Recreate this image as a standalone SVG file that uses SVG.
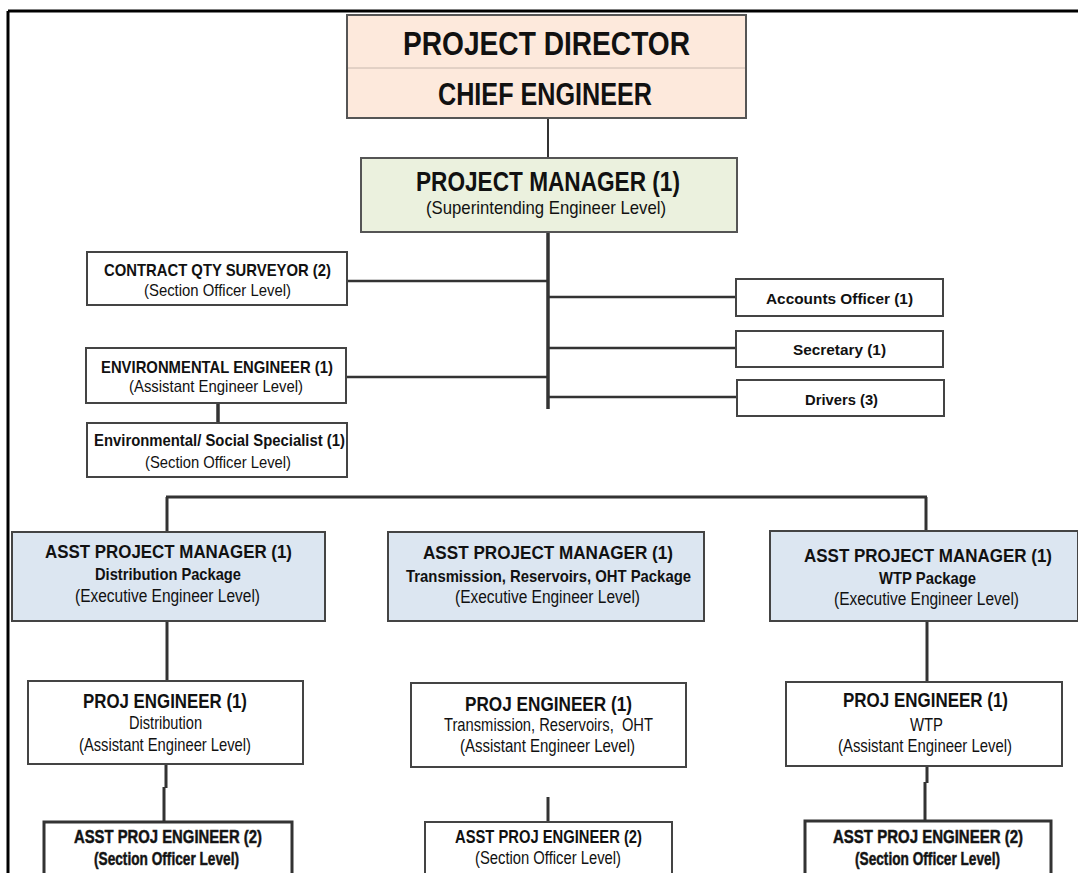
<svg xmlns="http://www.w3.org/2000/svg" width="1078" height="873" viewBox="0 0 1078 873">
  <style>
    text { font-family: "Liberation Sans Narrow", "Liberation Sans", Arial, sans-serif; fill: #111; text-anchor: middle; }
    .b { font-weight: bold; }
    .box { fill: #ffffff; stroke: #444; stroke-width: 2; }
    .peach { fill: #fde9dc; stroke: #555; stroke-width: 2; }
    .green { fill: #ebf1de; stroke: #555; stroke-width: 2; }
    .blue { fill: #dce6f1; stroke: #444; stroke-width: 2; }
    .heavy { stroke: #333; stroke-width: 3; }
    .conn line, .conn path { stroke: #333; fill: none; }
    .smear { stroke: #222; stroke-width: 0.5; }
  </style>

  <rect width="1078" height="873" fill="#ffffff"/>

  <!-- page frame -->
  <g id="frame" stroke="#000" stroke-width="3">
    <line x1="8" y1="11" x2="1078" y2="11"/>
    <line x1="8" y1="11" x2="8" y2="873"/>
  </g>

  <!-- connectors -->
  <g id="connectors" class="conn">
    <line x1="548" y1="118" x2="548" y2="158" stroke-width="2"/>
    <line x1="548" y1="232" x2="548" y2="409" stroke-width="3.5"/>
    <line x1="347" y1="281" x2="548" y2="281" stroke-width="2.5"/>
    <line x1="346" y1="377" x2="548" y2="377" stroke-width="2.5"/>
    <line x1="548" y1="297" x2="736" y2="297" stroke-width="2.5"/>
    <line x1="548" y1="348" x2="736" y2="348" stroke-width="2.5"/>
    <line x1="548" y1="397" x2="737" y2="397" stroke-width="2.5"/>
    <line x1="218" y1="403" x2="218" y2="423" stroke-width="3.5"/>
    <line x1="166" y1="497" x2="927" y2="497" stroke-width="3"/>
    <line x1="167" y1="497" x2="167" y2="532" stroke-width="3"/>
    <line x1="926" y1="497" x2="926" y2="531" stroke-width="3"/>
    <line x1="167" y1="621" x2="167" y2="681" stroke-width="3"/>
    <path d="M166,764 V788 M164,787 V822" stroke-width="3"/>
    <line x1="927" y1="621" x2="927" y2="682" stroke-width="3"/>
    <path d="M927,766 V783 M925,782 V821" stroke-width="3"/>
    <line x1="548" y1="797" x2="548" y2="822" stroke-width="3"/>
  </g>

  <g id="project-director">
    <rect class="peach" x="347" y="15" width="399" height="103"/>
    <line x1="348" y1="68" x2="745" y2="68" stroke="#c8b8ae" stroke-width="1"/>
    <text class="b" x="546.5" y="55" font-size="34" textLength="287" lengthAdjust="spacingAndGlyphs">PROJECT DIRECTOR</text>
    <text class="b" x="545" y="105" font-size="31" textLength="214" lengthAdjust="spacingAndGlyphs">CHIEF ENGINEER</text>
  </g>

  <g id="project-manager">
    <rect class="green" x="361" y="158" width="376" height="74"/>
    <text class="b" x="548" y="191" font-size="27" textLength="264" lengthAdjust="spacingAndGlyphs">PROJECT MANAGER (1)</text>
    <text x="546" y="214" font-size="19" textLength="240" lengthAdjust="spacingAndGlyphs">(Superintending Engineer Level)</text>
  </g>

  <g id="contract-qty-surveyor">
    <rect class="box" x="87" y="252" width="260" height="53"/>
    <text class="b" x="217.5" y="276" font-size="17" textLength="227" lengthAdjust="spacingAndGlyphs">CONTRACT QTY SURVEYOR (2)</text>
    <text x="217.5" y="296" font-size="16.5" textLength="147" lengthAdjust="spacingAndGlyphs">(Section Officer Level)</text>
  </g>

  <g id="environmental-engineer">
    <rect class="box" x="86" y="348" width="260" height="55"/>
    <text class="b" x="217" y="373" font-size="17" textLength="232" lengthAdjust="spacingAndGlyphs">ENVIRONMENTAL ENGINEER (1)</text>
    <text x="216" y="392" font-size="16.5" textLength="174" lengthAdjust="spacingAndGlyphs">(Assistant Engineer Level)</text>
  </g>

  <g id="env-social-specialist">
    <rect class="box" x="87" y="423" width="260" height="54"/>
    <text class="b" x="219.5" y="446" font-size="17" textLength="251" lengthAdjust="spacingAndGlyphs">Environmental/ Social Specialist (1)</text>
    <text x="218" y="468" font-size="16.5" textLength="146" lengthAdjust="spacingAndGlyphs">(Section Officer Level)</text>
  </g>

  <g id="accounts-officer">
    <rect class="box" x="736" y="279" width="207" height="37"/>
    <text class="b" x="839.5" y="304" font-size="15" textLength="147" lengthAdjust="spacingAndGlyphs">Accounts Officer (1)</text>
  </g>

  <g id="secretary">
    <rect class="box" x="736" y="331" width="207" height="36"/>
    <text class="b" x="839.5" y="355" font-size="15" textLength="93" lengthAdjust="spacingAndGlyphs">Secretary (1)</text>
  </g>

  <g id="drivers">
    <rect class="box" x="737" y="380" width="207" height="36"/>
    <text class="b" x="841.5" y="405" font-size="15" textLength="73" lengthAdjust="spacingAndGlyphs">Drivers (3)</text>
  </g>

  <g id="apm-distribution">
    <rect class="blue" x="12" y="532" width="313" height="89"/>
    <text class="b" x="168.5" y="558" font-size="19" textLength="247" lengthAdjust="spacingAndGlyphs">ASST PROJECT MANAGER (1)</text>
    <text class="b" x="168" y="580" font-size="17" textLength="146" lengthAdjust="spacingAndGlyphs">Distribution Package</text>
    <text x="167.5" y="602" font-size="18" textLength="185" lengthAdjust="spacingAndGlyphs">(Executive Engineer Level)</text>
  </g>

  <g id="apm-transmission">
    <rect class="blue" x="388" y="532" width="316" height="89"/>
    <text class="b" x="548" y="559" font-size="19" textLength="250" lengthAdjust="spacingAndGlyphs">ASST PROJECT MANAGER (1)</text>
    <text class="b" x="548.5" y="582" font-size="17" textLength="285" lengthAdjust="spacingAndGlyphs">Transmission, Reservoirs, OHT Package</text>
    <text x="547.5" y="603" font-size="18" textLength="185" lengthAdjust="spacingAndGlyphs">(Executive Engineer Level)</text>
  </g>

  <g id="apm-wtp">
    <rect class="blue" x="770" y="531" width="308" height="90"/>
    <text class="b" x="928" y="562" font-size="19" textLength="248" lengthAdjust="spacingAndGlyphs">ASST PROJECT MANAGER (1)</text>
    <text class="b" x="927.5" y="584" font-size="17" textLength="97" lengthAdjust="spacingAndGlyphs">WTP Package</text>
    <text x="926.5" y="605" font-size="18" textLength="185" lengthAdjust="spacingAndGlyphs">(Executive Engineer Level)</text>
  </g>

  <g id="pe-distribution">
    <rect class="box" x="28" y="681" width="275" height="83"/>
    <text class="b" x="165" y="708" font-size="20.5" textLength="164" lengthAdjust="spacingAndGlyphs">PROJ ENGINEER (1)</text>
    <text x="165.5" y="729" font-size="18.5" textLength="73" lengthAdjust="spacingAndGlyphs">Distribution</text>
    <text x="165" y="751" font-size="18.5" textLength="172" lengthAdjust="spacingAndGlyphs">(Assistant Engineer Level)</text>
  </g>

  <g id="pe-transmission">
    <rect class="box" x="411" y="683" width="275" height="84"/>
    <text class="b" x="548.5" y="711" font-size="20.5" textLength="167" lengthAdjust="spacingAndGlyphs">PROJ ENGINEER (1)</text>
    <text x="548.5" y="731" font-size="18.5" textLength="209" lengthAdjust="spacingAndGlyphs">Transmission, Reservoirs,&#160; OHT</text>
    <text x="547.5" y="752" font-size="18.5" textLength="175" lengthAdjust="spacingAndGlyphs">(Assistant Engineer Level)</text>
  </g>

  <g id="pe-wtp">
    <rect class="box" x="786" y="682" width="276" height="84"/>
    <text class="b" x="925.5" y="707" font-size="20.5" textLength="165" lengthAdjust="spacingAndGlyphs">PROJ ENGINEER (1)</text>
    <text x="926.5" y="731" font-size="18.5" textLength="33" lengthAdjust="spacingAndGlyphs">WTP</text>
    <text x="925" y="752" font-size="18.5" textLength="174" lengthAdjust="spacingAndGlyphs">(Assistant Engineer Level)</text>
  </g>

  <g id="ape-distribution">
    <rect class="box heavy" x="44" y="822" width="248" height="70"/>
    <text class="b smear" x="168" y="843" font-size="18.5" textLength="188" lengthAdjust="spacingAndGlyphs">ASST PROJ ENGINEER (2)</text>
    <text class="b smear" x="166.5" y="865" font-size="17.5" textLength="145" lengthAdjust="spacingAndGlyphs">(Section Officer Level)</text>
  </g>

  <g id="ape-transmission">
    <rect class="box" x="425" y="822" width="247" height="70"/>
    <text class="b" x="548.5" y="843" font-size="18.5" textLength="187" lengthAdjust="spacingAndGlyphs">ASST PROJ ENGINEER (2)</text>
    <text x="548" y="864" font-size="18" textLength="146" lengthAdjust="spacingAndGlyphs">(Section Officer Level)</text>
  </g>

  <g id="ape-wtp">
    <rect class="box heavy" x="805" y="821" width="246" height="70"/>
    <text class="b smear" x="928" y="843" font-size="18.5" textLength="190" lengthAdjust="spacingAndGlyphs">ASST PROJ ENGINEER (2)</text>
    <text class="b smear" x="927.5" y="865" font-size="17.5" textLength="145" lengthAdjust="spacingAndGlyphs">(Section Officer Level)</text>
  </g>
</svg>
